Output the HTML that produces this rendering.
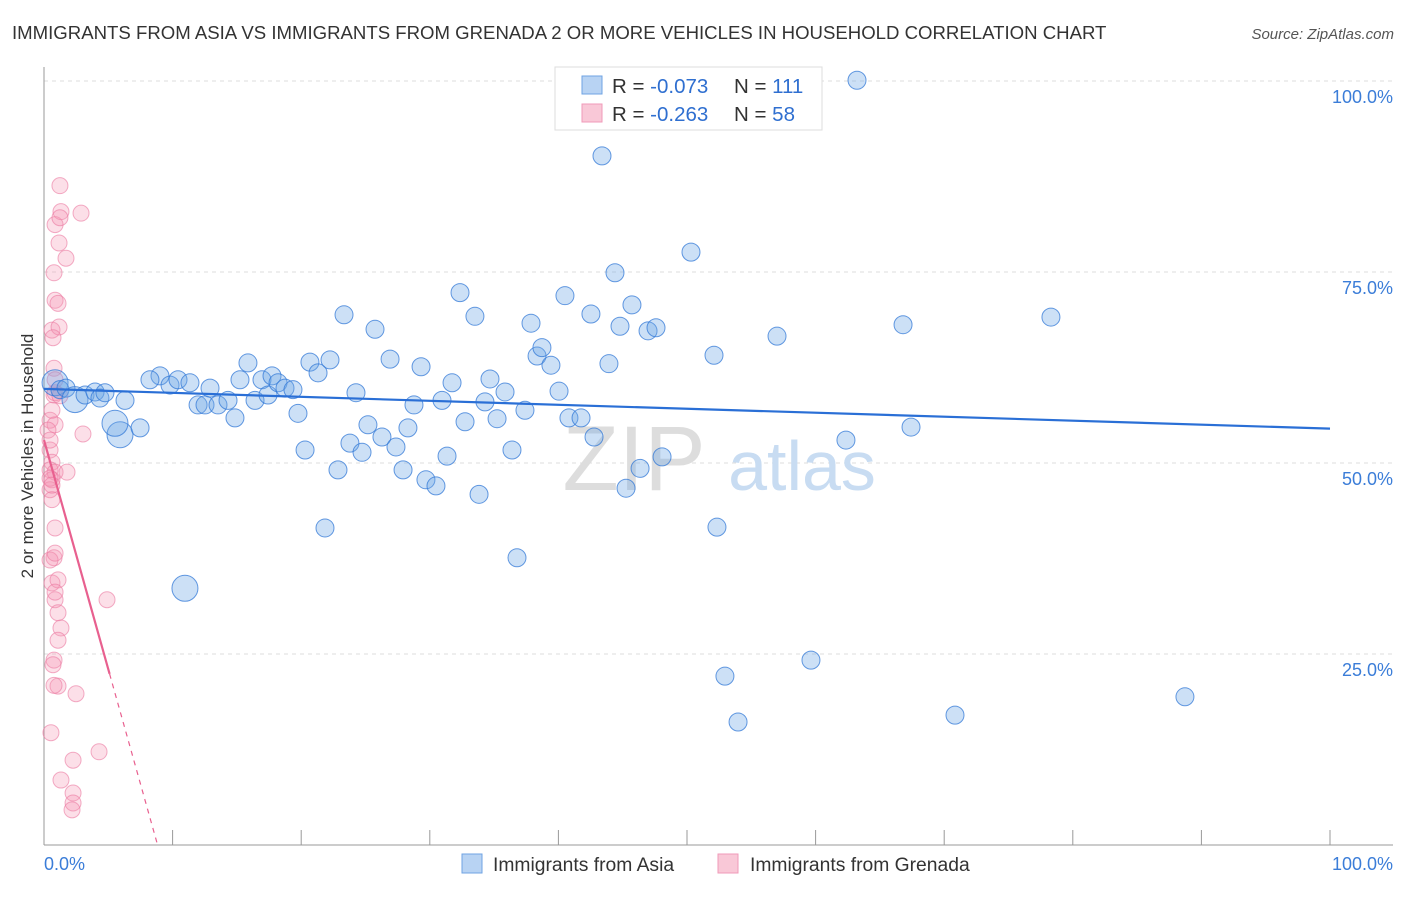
<!DOCTYPE html>
<html><head><meta charset="utf-8"><style>
body{margin:0;background:#fff;font-family:"Liberation Sans",sans-serif;}
svg text{font-family:"Liberation Sans",sans-serif;}
</style></head><body>
<svg id="chart" width="1406" height="892" viewBox="0 0 1406 892" xmlns="http://www.w3.org/2000/svg">
<text x="12" y="39" font-size="18.6" fill="#333">IMMIGRANTS FROM ASIA VS IMMIGRANTS FROM GRENADA 2 OR MORE VEHICLES IN HOUSEHOLD CORRELATION CHART</text>
<text x="1394" y="39" font-size="15" fill="#555" text-anchor="end" font-style="italic">Source: ZipAtlas.com</text>
<g id="grid"></g>
<g>
<text x="634" y="490" font-size="92" fill="#ddd" font-family="Liberation Serif" text-anchor="middle">ZIP</text>
<text x="802" y="490" font-size="70" fill="#c8dcf2" text-anchor="middle">atlas</text>
</g>
<g id="axes"></g>
<g id="pts"></g>
<g id="trend"></g>
<text transform="translate(33,456) rotate(-90)" font-size="17" fill="#333" text-anchor="middle">2 or more Vehicles in Household</text>
<g>
<rect x="555" y="67" width="267" height="63" fill="#fff" stroke="#ddd"/>
<rect x="582" y="76" width="20" height="18" fill="#b8d3f3" stroke="#6fa3e3"/>
<rect x="582" y="104" width="20" height="18" fill="#f9c8d7" stroke="#f09ab8"/>
<text x="612" y="93" font-size="20.5" fill="#333">R = <tspan fill="#2f6fd0">-0.073</tspan></text>
<text x="734" y="93" font-size="20.5" fill="#333">N = <tspan fill="#2f6fd0">111</tspan></text>
<text x="612" y="121" font-size="20.5" fill="#333">R = <tspan fill="#2f6fd0">-0.263</tspan></text>
<text x="734" y="121" font-size="20.5" fill="#333">N = <tspan fill="#2f6fd0">58</tspan></text>
</g>
<g>
<rect x="462" y="854" width="20" height="19" fill="#b8d3f3" stroke="#6fa3e3"/>
<text x="493" y="871" font-size="19.3" fill="#333">Immigrants from Asia</text>
</g>
<g>
<rect x="718" y="854" width="20" height="19" fill="#f9c8d7" stroke="#f09ab8"/>
<text x="750" y="871" font-size="19.3" fill="#333">Immigrants from Grenada</text>
</g>
</svg>
<script>
const yTicks=[25,50,75,100];
const yTickLabels=["25.0%","50.0%","75.0%","100.0%"];
const xTicks=[0,10,20,30,40,50,60,70,80,90,100];
const xEndLabels=["0.0%","100.0%"];
const asiaX=[0.86,1.24,1.71,2.41,3.19,3.97,4.35,4.74,5.91,5.52,6.30,7.47,9.02,8.24,9.80,10.42,11.35,10.96,11.98,12.52,12.91,13.53,14.31,14.85,15.24,15.86,16.41,16.95,17.42,17.73,18.20,18.74,19.36,19.75,20.30,20.68,21.31,21.85,22.24,22.86,23.33,23.79,24.26,24.73,25.19,25.74,26.28,26.91,27.37,27.92,28.30,28.77,29.32,29.70,30.48,30.95,31.34,31.73,32.35,32.74,33.51,33.83,34.29,34.68,35.23,35.85,36.39,36.78,37.40,37.87,38.34,38.72,39.42,40.05,40.51,40.82,41.76,42.53,42.77,43.39,43.93,44.40,44.79,45.26,45.72,46.35,46.97,47.59,48.06,50.31,52.10,52.33,52.95,53.42,53.97,57.00,59.64,62.36,63.22,66.80,67.42,70.84,78.30,88.72];
const asiaY=[60.5,59.6,59.8,58.3,58.9,59.3,58.5,59.2,53.7,55.2,58.2,54.6,61.4,60.9,60.2,60.9,60.5,33.6,57.6,57.6,59.8,57.6,58.2,55.9,60.9,63.1,58.2,60.9,58.9,61.4,60.5,59.8,59.6,56.5,51.7,63.2,61.8,41.5,63.5,49.1,69.4,52.6,59.2,51.4,55.0,67.5,53.4,63.6,52.1,49.1,54.6,57.6,62.6,47.8,47.0,58.2,50.9,60.5,72.3,55.4,69.2,45.9,58.0,61.0,55.8,59.3,51.7,37.6,56.9,68.3,64.0,65.1,62.8,59.4,71.9,55.9,55.9,69.5,53.4,90.2,63.0,74.9,67.9,46.7,70.7,49.3,67.3,67.7,50.8,77.6,64.1,41.6,22.1,100.1,16.1,66.6,24.2,53.0,100.1,68.1,54.7,17.0,69.1,19.4];
const asiaBig=[0,3,8,9,17];
const grenX=[1.24,0.86,1.32,1.24,2.88,1.17,1.71,0.78,0.86,1.09,0.62,1.17,0.70,0.78,0.86,0.78,0.47,0.86,3.03,0.47,0.62,0.47,0.86,1.79,0.62,0.47,0.62,0.86,0.78,0.47,0.62,0.86,4.90,1.09,1.32,1.09,0.78,0.70,1.09,2.49,0.54,4.28,2.26,1.32,2.26,2.26,2.18,0.86,1.24,0.62,0.47,0.62,0.86,1.09,0.86,0.78,0.31,0.47];
const grenY=[86.3,81.2,82.9,82.1,82.7,78.8,76.8,74.9,71.3,70.9,67.4,67.8,66.4,62.4,60.9,58.9,55.6,55.0,53.8,51.7,50.1,49.1,48.8,48.8,47.8,46.5,45.2,41.5,37.6,37.3,34.3,32.1,32.1,30.4,28.4,26.8,24.2,23.6,20.8,19.8,14.7,12.2,11.1,8.5,6.8,5.5,4.6,59.2,58.8,56.9,48.0,47.1,38.2,34.7,33.1,20.9,54.3,53.0];
const asiaTrend=[59.7,54.5];
const grenTrend=[53.0,-6.0];
const NS="http://www.w3.org/2000/svg";
const X=v=>44+v*12.86, Y=v=>845-v*7.64;
function mk(tag,attrs,parent){const e=document.createElementNS(NS,tag);for(const k in attrs)e.setAttribute(k,attrs[k]);parent.appendChild(e);return e;}
const grid=document.getElementById('grid'),axes=document.getElementById('axes'),pts=document.getElementById('pts'),tr=document.getElementById('trend');
yTicks.forEach((t,i)=>{
 const l=mk('line',{x1:44,x2:1393,y1:Y(t),y2:Y(t),stroke:'#ddd','stroke-dasharray':'4,4'},grid);
 
 
 const tx=mk('text',{x:1393,y:Y(t)+22,'font-size':18,fill:'#3b7dd8','text-anchor':'end'},axes);
 tx.textContent=yTickLabels[i];
 
 
});
const ax=mk('line',{x1:44,x2:44,y1:67,y2:845,stroke:'#999'},axes);


const bx=mk('line',{x1:44,x2:1393,y1:845,y2:845,stroke:'#999'},axes);


xTicks.forEach(t=>{
 const l=mk('line',{x1:X(t),x2:X(t),y1:830,y2:845,stroke:'#999'},axes);
 
 
});
[0,100].forEach((t,i)=>{
 const tx=mk('text',{x:i?1393:44,y:870,'font-size':18,fill:'#3b7dd8','text-anchor':i?'end':'start'},axes);
 tx.textContent=xEndLabels[i];
 
 
});
grenX.forEach((v,i)=>{
 const c=mk('circle',{cx:X(v),cy:Y(grenY[i]),r:8,fill:'rgba(245,150,180,0.3)',stroke:'rgba(235,120,160,0.6)'},pts);
 
 
});
asiaX.forEach((v,i)=>{
 const c=mk('circle',{cx:X(v),cy:Y(asiaY[i]),r:asiaBig.includes(i)?13:9,fill:'rgba(110,165,230,0.35)',stroke:'rgba(50,120,215,0.75)'},pts);
 
 
});
const bl=mk('line',{x1:X(0),y1:Y(asiaTrend[0]),x2:X(100),y2:Y(asiaTrend[1]),stroke:'#2a6fd6','stroke-width':2.2},tr);


const gEnd=5.1, gZero=-grenTrend[0]/grenTrend[1];
const pl=mk('line',{x1:X(0),y1:Y(grenTrend[0]),x2:X(gEnd),y2:Y(grenTrend[0]+grenTrend[1]*gEnd),stroke:'#e8608f','stroke-width':2.2},tr);


const pd=mk('line',{x1:X(gEnd),y1:Y(grenTrend[0]+grenTrend[1]*gEnd),x2:X(gZero),y2:Y(0),stroke:'#e8608f','stroke-width':1.2,'stroke-dasharray':'5,5'},tr);


</script>
</body></html>
